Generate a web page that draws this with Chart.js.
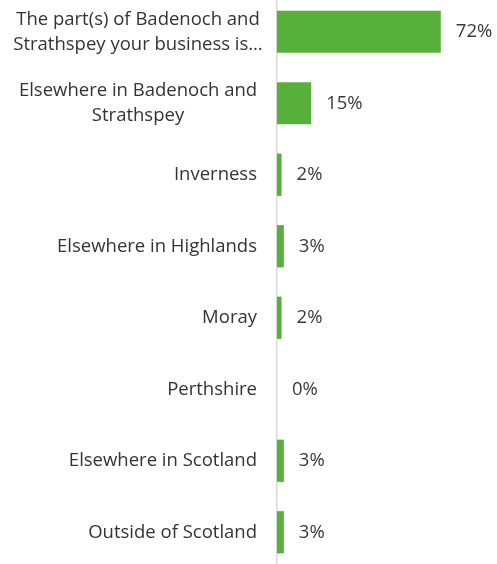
<!DOCTYPE html>
<html>
<head>
<meta charset="utf-8">
<script src="https://cdn.jsdelivr.net/npm/chart.js@4"></script>
<style>
  html, body { margin: 0; padding: 0; background: #fff; overflow: hidden; }
  #wrap { position: absolute; left: 0; top: -4px; width: 497px; height: 572px; }
</style>
</head>
<body>
<div id="wrap"><canvas id="locChart"></canvas></div>
<script>
var locations = [
    ['The part(s) of Badenoch and', 'Strathspey your business is…'],
    ['Elsewhere in Badenoch and', 'Strathspey'],
    'Inverness',
    'Elsewhere in Highlands',
    'Moray',
    'Perthshire',
    'Elsewhere in Scotland',
    'Outside of Scotland'
]
var shares = [72, 15, 2, 3, 2, 0, 3, 3]

var textColour = '#333333'
var labelFont = '18.5px "Open Sans", sans-serif'

// category names left of the axis: single lines flush right, wrapped ones centred in the label column
var categoryLabels = {
    id: 'categoryLabels',
    afterDraw: function (chart) {
        var ctx = chart.ctx
        var yScale = chart.scales.y
        var right = 257
        var middle = 138
        var lineHeight = 25
        ctx.save()
        ctx.font = labelFont
        ctx.fillStyle = textColour
        ctx.textBaseline = 'middle'
        locations.forEach(function (label, i) {
            var cy = yScale.getPixelForValue(i)
            if (Array.isArray(label)) {
                ctx.textAlign = 'center'
                var top = cy - (label.length - 1) * lineHeight / 2
                label.forEach(function (l, j) {
                    ctx.fillText(l, middle, top + j * lineHeight)
                })
            } else {
                ctx.textAlign = 'right'
                ctx.fillText(label, right, cy)
            }
        })
        ctx.restore()
    }
}

// percentage after each bar
var valueLabels = {
    id: 'valueLabels',
    afterDatasetsDraw: function (chart) {
        var ctx = chart.ctx
        var meta = chart.getDatasetMeta(0)
        ctx.save()
        ctx.font = labelFont
        ctx.fillStyle = '#3a3a3a'
        ctx.textAlign = 'left'
        ctx.textBaseline = 'middle'
        meta.data.forEach(function (bar, i) {
            ctx.fillText(shares[i] + '%', bar.x + 15, bar.y)
        })
        ctx.restore()
    }
}

var loc_data = {
    type: 'bar',
    data: {
        labels: locations,
        datasets: [
            {
                data: shares,
                backgroundColor: '#56b03a',
                borderWidth: 0,
                barPercentage: 0.59,
                categoryPercentage: 1
            }
        ]
    },
    options: {
        indexAxis: 'y',
        responsive: true,
        maintainAspectRatio: false,
        animation: false,
        layout: {
            padding: { left: 269, right: 38, top: 0, bottom: 0 }
        },
        plugins: {
            legend: { display: false },
            tooltip: { enabled: false }
        },
        scales: {
            x: {
                display: false,
                min: 0,
                max: 80
            },
            y: {
                grid: { display: false },
                ticks: { display: false },
                border: { display: true, color: '#d9d9d9', width: 1.5 }
            }
        }
    },
    plugins: [categoryLabels, valueLabels]
}

var loc_chart = new Chart(document.getElementById('locChart'), loc_data)
</script>
</body>
</html>
